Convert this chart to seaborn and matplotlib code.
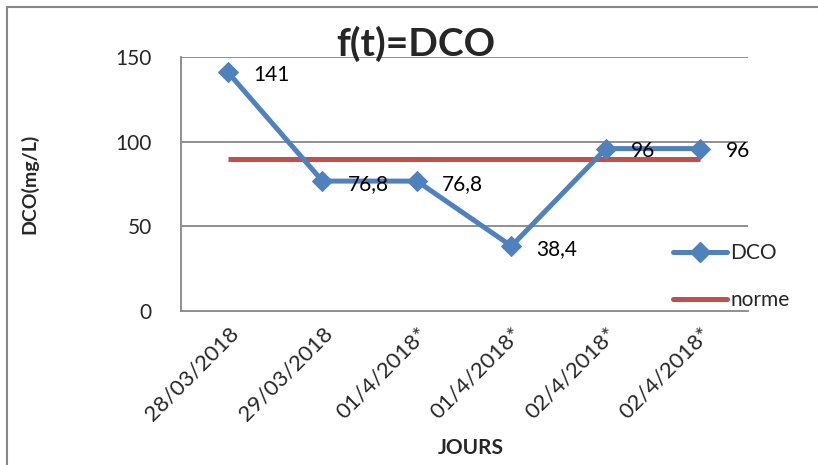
import matplotlib
matplotlib.use("Agg")
import matplotlib.pyplot as plt
from matplotlib.lines import Line2D
import seaborn as sns
import numpy as np

# Measurements of DCO over the sampling days
jours = ["28/03/2018", "29/03/2018", "01/4/2018*", "01/4/2018*", "02/4/2018*", "02/4/2018*"]
dco = [141, 76.8, 76.8, 38.4, 96, 96]
dco_labels = ["141", "76,8", "76,8", "38,4", "96", "96"]
norme = [90, 90, 90, 90, 90, 90]
y_ticks = [0, 50, 100, 150]

BLUE = "#4F81BD"
RED = "#C0504D"
GRID = "#878787"

sns.set_theme(style="white")
plt.rcParams["font.family"] = ["Lato", "DejaVu Sans"]

fig = plt.figure(figsize=(8.18, 4.65), dpi=100)
ax = fig.add_axes([0.221, 0.331, 0.693, 0.546])

pos = np.arange(len(jours))

sns.lineplot(x=pos, y=norme, ax=ax, color=RED, linewidth=3.6,
             solid_capstyle="butt", zorder=3, legend=False)
sns.lineplot(x=pos, y=dco, ax=ax, color=BLUE, linewidth=3.6, marker="D",
             markersize=10, markeredgecolor=BLUE, zorder=4, legend=False)

# Value labels beside each point
for x, y, t in zip(pos, dco, dco_labels):
    ax.annotate(t, (x, y), xytext=(18, -2), textcoords="offset points",
                ha="left", va="center", fontsize=15, color="black", zorder=5)

ax.set_xlim(-0.5, len(jours) - 0.5)
ax.set_ylim(0, 150)
ax.set_yticks(y_ticks)
ax.set_yticklabels([str(v) for v in y_ticks], fontsize=15)
ax.set_xticks(pos)
ax.set_xticklabels(jours, rotation=45, ha="right", rotation_mode="anchor", fontsize=16)
ax.tick_params(axis="y", length=0, pad=21)
ax.tick_params(axis="x", length=0, pad=9)

for v in y_ticks[1:]:
    ax.axhline(v, color=GRID, linewidth=1.3, zorder=1)

for side in ["top", "right"]:
    ax.spines[side].set_visible(False)
for side in ["left", "bottom"]:
    ax.spines[side].set_color(GRID)
    ax.spines[side].set_linewidth(1.3)

ax.set_xlabel("JOURS", fontsize=15, fontweight="bold")
ax.xaxis.set_label_coords(0.511, -0.50)
ax.set_ylabel("DCO(mg/L)", fontsize=14, fontweight="bold")
ax.yaxis.set_label_coords(-0.252, 0.5)

fig.text(0.508, 0.905, "f(t)=DCO", ha="center", va="center", fontsize=28, fontweight="bold")

handles = [Line2D([], [], color=BLUE, linewidth=3.6, marker="D", markersize=10),
           Line2D([], [], color=RED, linewidth=3.6)]
leg = fig.legend(handles, ["DCO", "norme"], loc="center left",
                 bbox_to_anchor=(0.80, 0.405), frameon=False, fontsize=15,
                 handlelength=2.6, handletextpad=0.15, labelspacing=1.3)

# Outer chart frame (left and top edges)
fig.add_artist(Line2D([0.0085, 0.0085], [0.0, 0.985], color=GRID, linewidth=1.5,
                      transform=fig.transFigure))
fig.add_artist(Line2D([0.0085, 1.0], [0.985, 0.985], color=GRID, linewidth=1.5,
                      transform=fig.transFigure))

fig.savefig("out.png", dpi=100)
